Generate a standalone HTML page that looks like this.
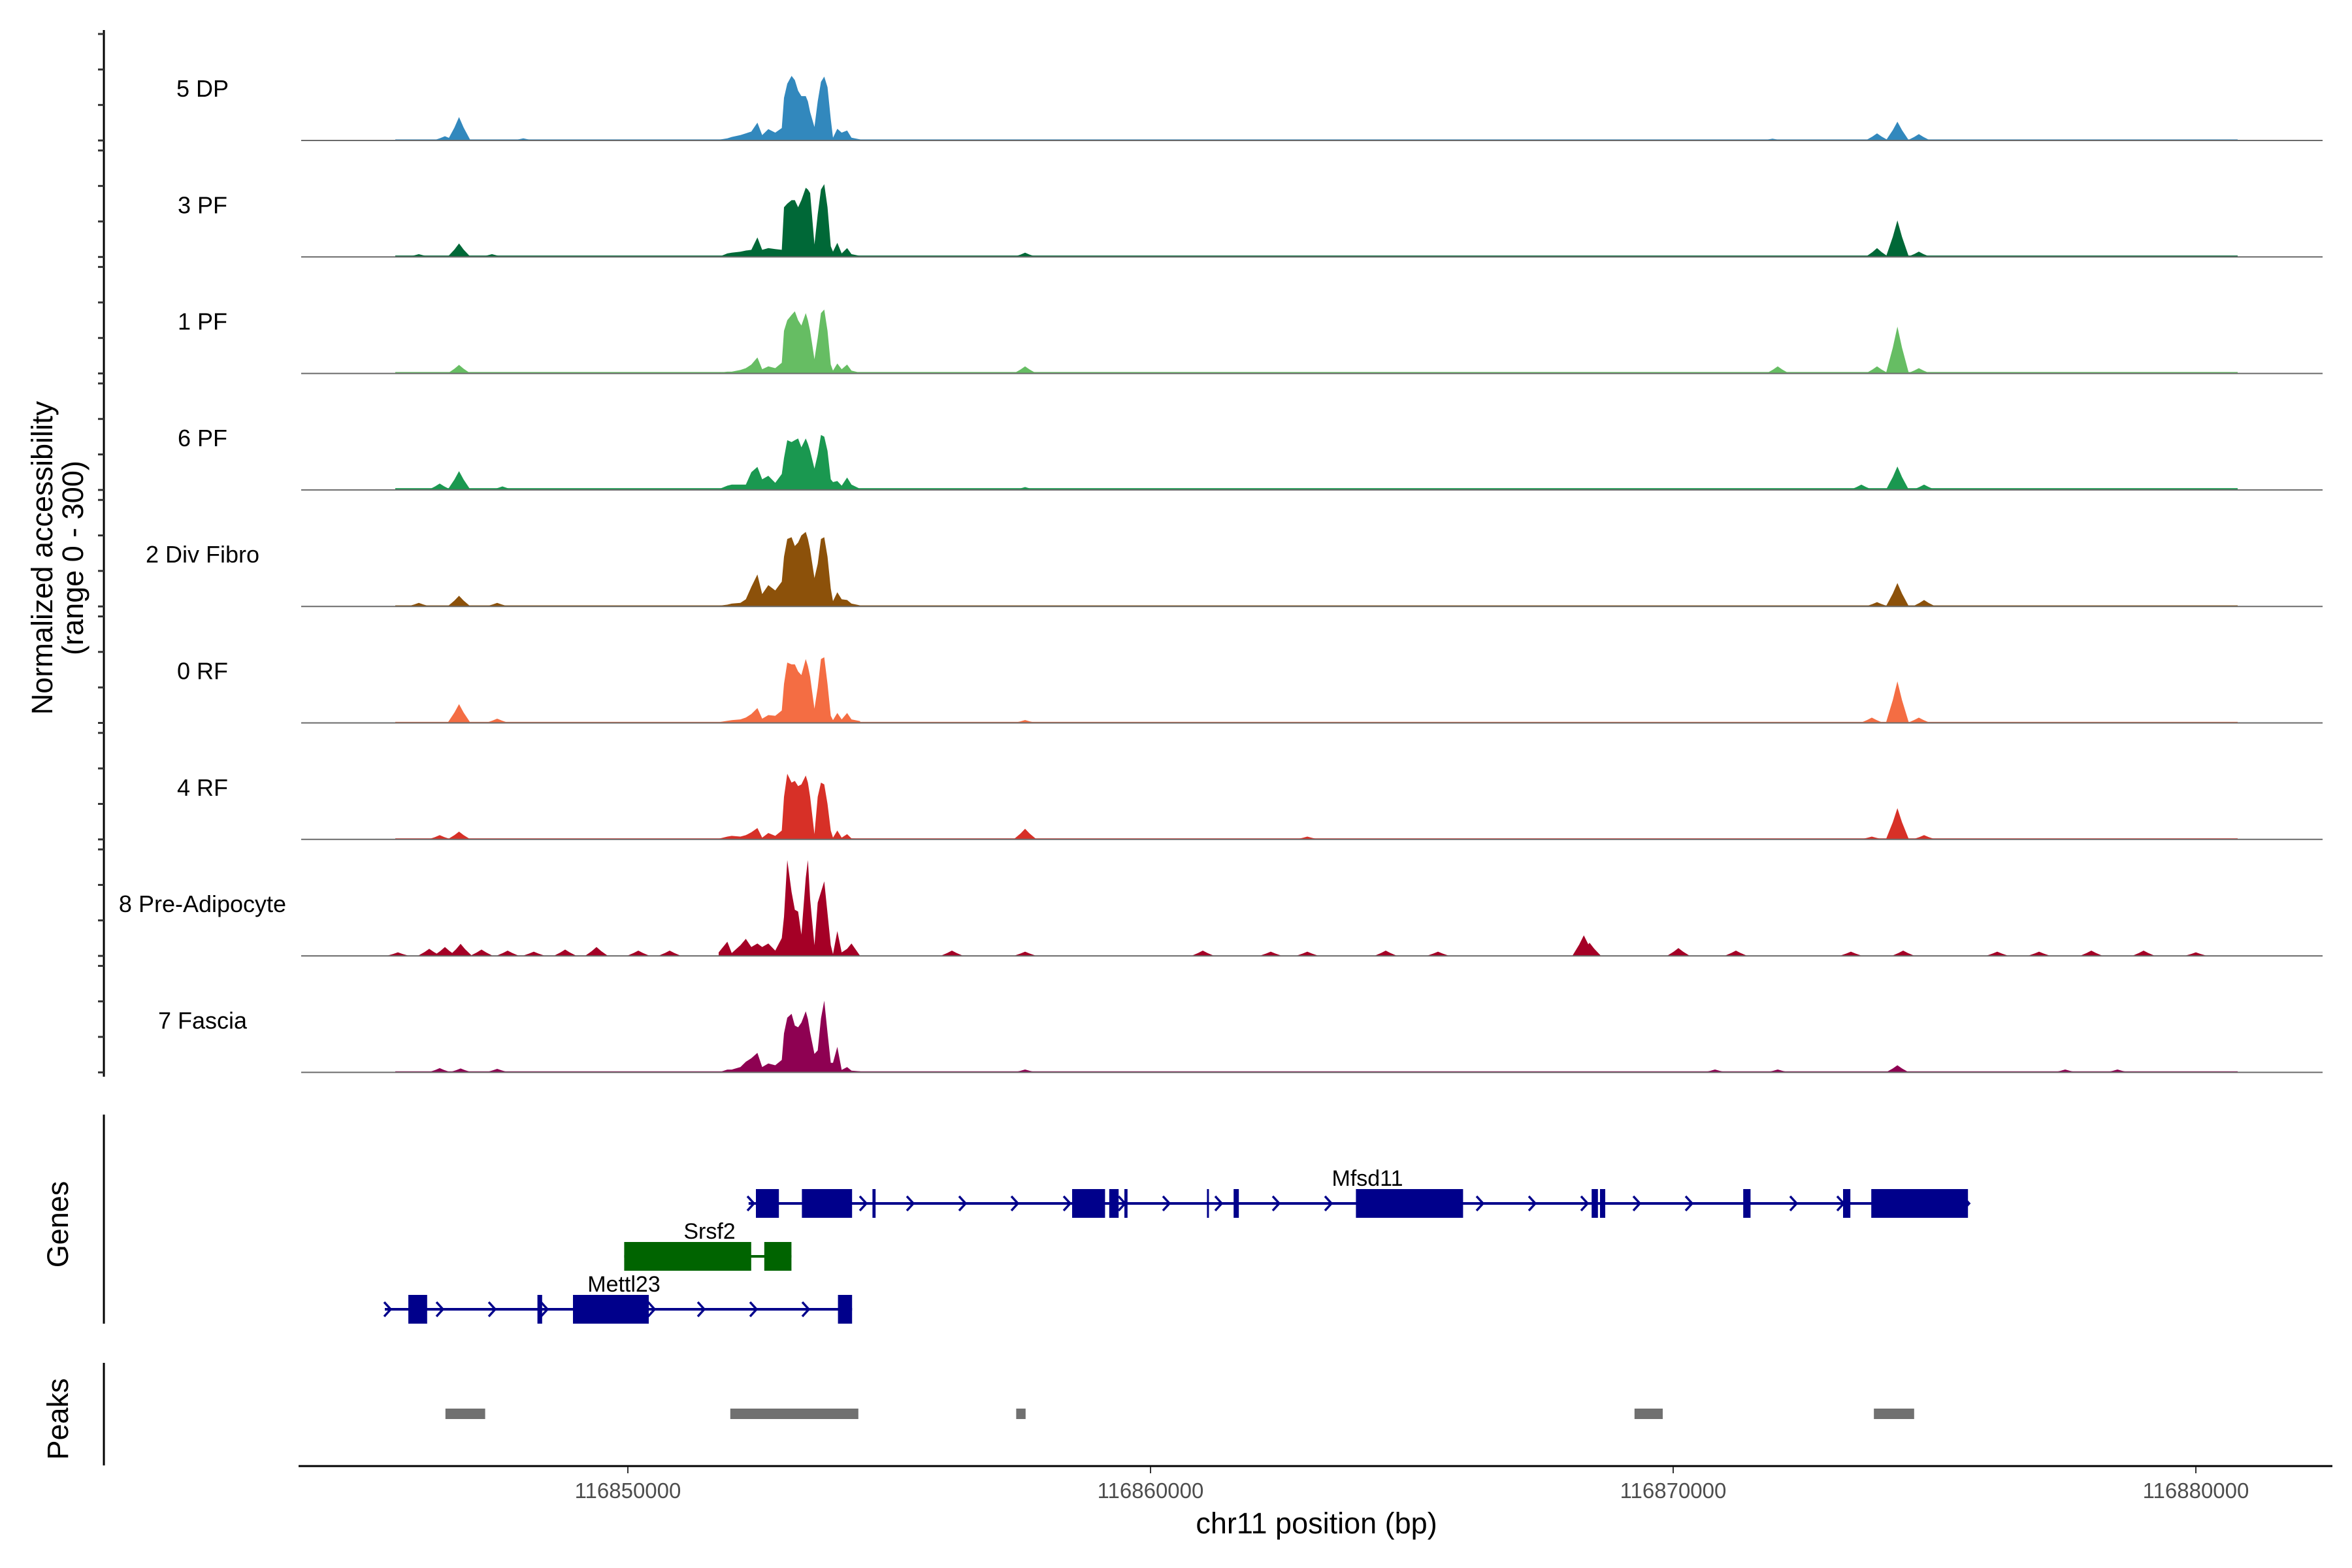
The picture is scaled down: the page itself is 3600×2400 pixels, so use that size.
<!DOCTYPE html>
<html><head><meta charset="utf-8"><style>
html,body{margin:0;padding:0;background:#fff;}
svg{display:block;font-family:"Liberation Sans",Arial,sans-serif;}
</style></head><body>
<svg id="chart" width="3600" height="2400" viewBox="0 0 3600 2400" xmlns="http://www.w3.org/2000/svg">
<g id="tracks"></g>
<g id="genes"></g>
<g id="peaks"></g>
<g id="axes"></g>
</svg>
<script>
// ---- data ----
const trackNames = ["5 DP","3 PF","1 PF","6 PF","2 Div Fibro","0 RF","4 RF","8 Pre-Adipocyte","7 Fascia"];
const trackColors = ["#3288bd","#006837","#66bd63","#1a9850","#8c510a","#f46d43","#d73027","#a50026","#8e0152"];
// main cluster grid (kb relative to 116,850,000)
const clusterKb = [1.737,1.904,1.987,2.154,2.258,2.362,2.479,2.570,2.687,2.820,2.945,2.987,3.050,3.133,3.195,3.258,3.320,3.404,3.445,3.487,3.570,3.633,3.695,3.758,3.820,3.883,3.925,4.008,4.091,4.195,4.279,4.445];
const valsDP  = [2,6,10,15,20,25,50,15,32,22,35,120,160,182,170,140,125,125,110,80,38,110,165,180,150,60,8,33,22,28,8,3];
const valsPF3 = [0,10,12,15,18,20,55,20,25,22,20,140,150,160,160,140,160,195,190,180,35,120,190,205,140,30,15,40,10,25,8,3];
const valsPF1 = [2,5,5,10,15,25,45,12,20,15,30,120,150,165,175,150,135,170,150,120,40,100,170,180,120,25,8,28,12,25,8,2];
const valsPF6 = [2,12,15,15,15,50,65,30,40,20,45,90,140,135,140,145,120,145,130,110,60,100,155,150,110,30,22,25,12,35,15,3];
const valsDiv = [2,5,8,10,20,55,90,35,60,45,70,140,190,195,170,180,200,210,190,160,80,120,190,195,140,50,15,40,20,18,8,3];
const valsRF0 = [2,6,8,10,15,25,42,12,22,20,35,110,170,165,165,145,135,180,160,130,40,100,180,185,110,20,8,28,10,28,10,5];
const valsRF4 = [2,8,10,8,12,20,32,5,18,10,25,120,185,160,165,150,155,180,160,120,15,120,160,155,100,25,5,25,5,15,3,2];
const valsPre = [10,40,8,30,48,25,35,25,35,15,50,110,270,180,130,125,60,220,270,160,30,150,180,210,120,30,5,70,10,20,35,0];
const valsFas = [0,8,8,15,30,40,55,15,25,20,35,110,154,165,132,127,140,172,150,112,52,62,152,202,112,27,27,72,7,15,5,3];
const clusterVals = [valsDP,valsPF3,valsPF1,valsPF6,valsDiv,valsRF0,valsRF4,valsPre,valsFas];
// other peaks: [kb, value]
const bumpsDP  = [[-3.23,66],[-3.5,12],[-2.0,6],[24.29,53],[23.9,20],[24.7,18],[21.9,5]];
const bumpsPF3 = [[-3.23,38],[-2.6,8],[7.6,12],[24.29,103],[23.9,25],[24.7,15],[-4.0,8]];
const bumpsPF1 = [[-3.23,24],[7.6,20],[22.0,20],[24.29,132],[23.9,20],[24.7,15]];
const bumpsPF6 = [[-3.23,53],[-3.6,18],[-2.4,10],[7.6,8],[24.29,66],[23.6,15],[24.8,15]];
const bumpsDiv = [[-3.23,30],[-4.0,10],[-2.5,10],[24.29,66],[24.8,18],[23.9,12]];
const bumpsRF0 = [[-3.23,53],[-2.5,12],[7.6,8],[24.29,117],[23.8,15],[24.7,15]];
const bumpsRF4 = [[-3.23,22],[-3.6,12],[7.6,30],[13.0,8],[24.29,88],[24.8,12],[23.8,8]];
const bumpsPre = [[-4.4,10],[-3.8,20],[-3.5,25],[-3.2,34],[-2.8,18],[-2.3,15],[-1.8,12],[-1.2,18],[-0.6,25],[0.2,15],[0.8,15],[6.2,15],[7.6,12],[11.0,15],[12.3,12],[13.0,12],[14.5,15],[15.5,12],[18.29,58],[18.4,37],[20.1,22],[21.2,15],[23.4,12],[24.4,15],[26.2,12],[27.0,12],[28.0,15],[29.0,15],[30.0,10]];
const bumpsFas = [[-3.6,12],[-3.2,11],[-2.5,10],[7.6,8],[20.8,8],[22.0,8],[24.29,20],[27.5,8],[28.5,8]];
const trackBumps = [bumpsDP,bumpsPF3,bumpsPF1,bumpsPF6,bumpsDiv,bumpsRF0,bumpsRF4,bumpsPre,bumpsFas];
const bgLevels = [3,4,4,5,3,3,3,0,3];
// genes: exons as [startKb,endKb]
const mfsd11Exons = [[2.45,2.89],[3.33,4.29],[4.68,4.74],[8.50,9.13],[9.21,9.39],[9.50,9.56],[11.08,11.11],[11.59,11.69],[13.93,15.98],[18.44,18.56],[18.6,18.70],[21.34,21.48],[23.25,23.39],[23.79,25.64]];
const mfsd11Range = [2.31,25.64];
const mfsd11Arrows = [2.35,4.5,5.4,6.4,7.4,8.4,9.45,10.3,11.3,12.4,13.4,16.3,17.3,18.3,19.3,20.3,22.3,23.2,25.6];
const srsf2Exons = [[-0.07,2.36],[2.61,3.13]];
const srsf2Range = [-0.07,3.13];
const mettl23Exons = [[-4.20,-3.84],[-1.73,-1.64],[-1.05,0.40],[4.02,4.29]];
const mettl23Range = [-4.65,4.29];
const mettl23Arrows = [-4.6,-3.6,-2.6,-1.6,0.45,1.4,2.4,3.4];
const peakRegions = [[-3.49,-2.73],[1.96,4.41],[7.43,7.61],[19.26,19.80],[23.84,24.61]];
const xTicks = [116850000,116860000,116870000,116880000];

// ---- scales ----
const NS="http://www.w3.org/2000/svg";
const X0=961, PXPERKB=80;
const x = kb => X0 + kb*PXPERKB;
const xbp = bp => X0 + (bp-116850000)/1000*PXPERKB;
const TRACK_TOP0=215, TRACK_STEP=178.3, TRACK_H=163;
const baseY = i => TRACK_TOP0 + i*TRACK_STEP;
const yv = (i,v) => baseY(i) - v/300*TRACK_H;
const XL=457, XR=3555, DATA_L=-4.45, DATA_R=30.8;
const AXIS_Y=2244;
function mk(tag, attrs, parent){const e=document.createElementNS(NS,tag);for(const k in attrs)e.setAttribute(k,attrs[k]);parent.appendChild(e);return e;}

const gT=document.getElementById('tracks');
trackNames.forEach((name,i)=>{
  const g=mk('g',{},gT);
  
  
  const col=trackColors[i], b=baseY(i);
  if(bgLevels[i]>0){
    const r=mk('rect',{x:x(DATA_L),y:yv(i,bgLevels[i]),width:x(DATA_R)-x(DATA_L),height:b-yv(i,bgLevels[i]),fill:col},g);
    
    
  }
  let d='M'+x(clusterKb[0])+','+b;
  clusterKb.forEach((k,j)=>{d+=' L'+x(k).toFixed(1)+','+yv(i,clusterVals[i][j]).toFixed(1);});
  d+=' L'+x(clusterKb[clusterKb.length-1])+','+b+' Z';
  const p=mk('path',{d:d,fill:col},g);
  
  
  trackBumps[i].forEach(bp=>{
    const w=0.22;
    const pk=mk('path',{d:`M${x(bp[0]-w)},${b} L${x(bp[0]-w*0.4)},${yv(i,bp[1]*0.55)} L${x(bp[0])},${yv(i,bp[1])} L${x(bp[0]+w*0.4)},${yv(i,bp[1]*0.55)} L${x(bp[0]+w)},${b} Z`,fill:col},g);
    
    
  });
  const ln=mk('line',{x1:XL+4,x2:XR,y1:b,y2:b,stroke:'#6a6a6a','stroke-width':2},g);
  
  
  const t=mk('text',{x:310,y:b-67,'font-size':36,'text-anchor':'middle',fill:'#000'},g);
  t.textContent=name;
  
  
});

// ---- genes ----
const gG=document.getElementById('genes');
const NAVY='#00008b', GREEN='#006400';
function drawGene(label,range,exons,arrows,cy,h,col,lx,ly){
  const g=mk('g',{},gG);
  
  
  const l=mk('line',{x1:x(range[0]),x2:x(range[1]),y1:cy,y2:cy,stroke:col,'stroke-width':4},g);
  
  
  exons.forEach(e=>{
    const r=mk('rect',{x:x(e[0]),y:cy-h/2,width:Math.max(3,x(e[1])-x(e[0])),height:h,fill:col},g);
    
    
  });
  arrows.forEach(a=>{
    const c=mk('path',{d:`M${x(a)-5},${cy-11} L${x(a)+5},${cy} L${x(a)-5},${cy+11}`,fill:'none',stroke:col,'stroke-width':3.5},g);
    
    
  });
  const t=mk('text',{x:lx,y:ly,'font-size':34,'text-anchor':'middle',fill:'#000'},g);
  t.textContent=label;
  
  
}
drawGene('Mfsd11',mfsd11Range,mfsd11Exons,mfsd11Arrows,1842,44,NAVY,2093,1815);
drawGene('Srsf2',srsf2Range,srsf2Exons,[],1923,44,GREEN,1086,1896);
drawGene('Mettl23',mettl23Range,mettl23Exons,mettl23Arrows,2004,44,NAVY,955,1977);

// ---- peaks ----
const gP=document.getElementById('peaks');
peakRegions.forEach(r=>{
  const e=mk('rect',{x:x(r[0]),y:2156,width:x(r[1])-x(r[0]),height:16,fill:'#707070'},gP);
  
  
});

// ---- axes ----
const gA=document.getElementById('axes');
function ax(tag,attrs,name){const e=mk(tag,attrs,gA);return e;}
ax('line',{x1:159,x2:159,y1:46,y2:1648,stroke:'#000','stroke-width':3},'y-axis-line');
trackNames.forEach((n,i)=>{
  for(let k=0;k<4;k++){
    const yy=baseY(i)-k*TRACK_H/3;
    ax('line',{x1:150,x2:159,y1:yy,y2:yy,stroke:'#333','stroke-width':3},'y-tick');
  }
});
ax('line',{x1:159,x2:159,y1:1706,y2:2026,stroke:'#000','stroke-width':3},'genes-axis-line');
ax('line',{x1:159,x2:159,y1:2086,y2:2243,stroke:'#000','stroke-width':3},'peaks-axis-line');
ax('line',{x1:XL,x2:XR+15,y1:AXIS_Y,y2:AXIS_Y,stroke:'#000','stroke-width':3},'x-axis-line');
xTicks.forEach(t=>{
  ax('line',{x1:xbp(t),x2:xbp(t),y1:AXIS_Y+1,y2:AXIS_Y+11,stroke:'#333','stroke-width':2},'x-tick');
  const tx=ax('text',{x:xbp(t),y:AXIS_Y+49,'font-size':33,'text-anchor':'middle',fill:'#4d4d4d'},'x-tick-label');
  tx.textContent=String(t);
});
const xt=ax('text',{x:2015,y:AXIS_Y+103,'font-size':45,'text-anchor':'middle',fill:'#000'},'x-axis-title');
xt.textContent='chr11 position (bp)';
const yt1=ax('text',{x:0,y:0,'font-size':45,'text-anchor':'middle',fill:'#000',transform:'translate(80,854) rotate(-90)'},'y-axis-title');
yt1.textContent='Normalized accessibility';
const yt2=ax('text',{x:0,y:0,'font-size':45,'text-anchor':'middle',fill:'#000',transform:'translate(127,854) rotate(-90)'},'y-axis-subtitle');
yt2.textContent='(range 0 - 300)';
const gt=ax('text',{x:0,y:0,'font-size':45,'text-anchor':'middle',fill:'#000',transform:'translate(104,1874) rotate(-90)'},'genes-axis-title');
gt.textContent='Genes';
const pt=ax('text',{x:0,y:0,'font-size':45,'text-anchor':'middle',fill:'#000',transform:'translate(104,2172) rotate(-90)'},'peaks-axis-title');
pt.textContent='Peaks';
</script>
</body></html>
